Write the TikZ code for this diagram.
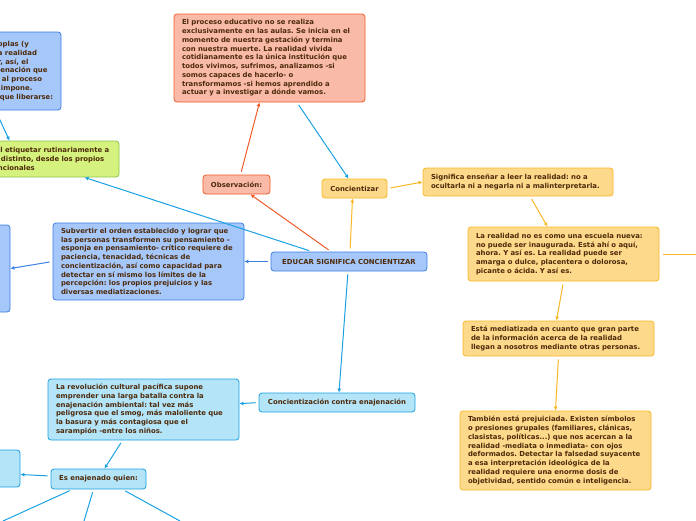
\documentclass[tikz,border=0pt]{standalone}
\usepackage{fontspec}
\usepackage{graphicx}
\setmainfont{DejaVu Sans}
\usetikzlibrary{arrows.meta, positioning}

\definecolor{txtbrown}{HTML}{4D2A0A}
\definecolor{salmonfill}{HTML}{F9BBA7}
\definecolor{salmonline}{HTML}{F15A29}
\definecolor{bluefill}{HTML}{A6C7F9}
\definecolor{blueline}{HTML}{3D7FE3}
\definecolor{greenfill}{HTML}{D5F27E}
\definecolor{greenline}{HTML}{8BC34A}
\definecolor{yellowfill}{HTML}{FDD98B}
\definecolor{yellowline}{HTML}{F9B723}
\definecolor{cyanfill}{HTML}{B3E4F8}
\definecolor{cyanline}{HTML}{1BA1E2}

% squeeze a line that is wider than the box
\newsavebox{\fitbox}
\newcommand{\fl}[1]{\sbox{\fitbox}{#1}%
  \ifdim\wd\fitbox>\linewidth\resizebox{\linewidth}{\height}{#1}\else\usebox{\fitbox}\fi}

\begin{document}
\frenchspacing
\begin{tikzpicture}[
    x=1pt, y=-1pt,
    box/.style={
        draw,
        rounded corners=3pt,
        line width=0.8pt,
        align=left,
        text=txtbrown,
        font=\fontsize{6.9}{8.75}\selectfont\bfseries,
        inner xsep=8pt,
        inner ysep=3pt
    },
    salmonbox/.style={box, fill=salmonfill, draw=salmonline},
    bluebox/.style={box, fill=bluefill, draw=blueline},
    greenbox/.style={box, fill=greenfill, draw=greenline},
    yellowbox/.style={box, fill=yellowfill, draw=yellowline},
    cyanbox/.style={box, fill=cyanfill, draw=cyanline},
    arrow/.style={
        -{Latex[length=4pt,width=4pt]},
        line width=1pt,
        shorten <=3pt
    }
]
\useasboundingbox (0,0) rectangle (696,520);
\clip (0,0) rectangle (696,520);

% centre
\node[bluebox, align=center, minimum width=156pt, minimum height=19pt] (educar) at (349,261.5)
{EDUCAR SIGNIFICA CONCIENTIZAR};

% upper branch
\node[salmonbox, minimum width=67pt, minimum height=19pt, align=center] (obs) at (236.5,184.5)
{Observación:};

\node[salmonbox, text width=175pt, minimum height=88pt] (proceso) at (269.5,58)
{\fl{El proceso educativo no se realiza}\\
\fl{exclusivamente en las aulas. Se inicia en el}\\
\fl{momento de nuestra gestación y termina}\\
\fl{con nuestra muerte. La realidad vivida}\\
\fl{cotidianamente es la única institución que}\\
\fl{todos vivimos, sufrimos, analizamos -si}\\
\fl{somos capaces de hacerlo- o}\\
\fl{transformamos -si hemos aprendido a}\\
\fl{actuar y a investigar a dónde vamos.}};

\node[yellowbox, minimum width=65pt, minimum height=19pt, align=center] (conc) at (354.5,188.5)
{Concientizar};

\node[yellowbox, text width=174pt, minimum height=28pt] (signif) at (518,182)
{\fl{Significa enseñar a leer la realidad: no a}\\
\fl{ocultarla ni a negarla ni a malinterpretarla.}};

\node[yellowbox, text width=175pt, minimum height=54pt] (realidad) at (563.5,254)
{\fl{La realidad no es como una escuela nueva:}\\
\fl{no puede ser inaugurada. Está ahí o aquí,}\\
\fl{ahora. Y así es. La realidad puede ser}\\
\fl{amarga o dulce, placentera o dolorosa,}\\
\fl{picante o ácida. Y así es.}};

\node[yellowbox, text width=175pt, minimum height=35pt] (mediat) at (558.5,338.5)
{\fl{Está mediatizada en cuanto que gran parte}\\
\fl{de la información acerca de la realidad}\\
\fl{llegan a nosotros mediante otras personas.}};

\node[yellowbox, text width=175pt, minimum height=79pt] (prejuic) at (555.5,450.5)
{\fl{También está prejuiciada. Existen símbolos}\\
\fl{o presiones grupales (familiares, clánicas,}\\
\fl{clasistas, políticas...) que nos acercan a la}\\
\fl{realidad -mediata o inmediata- con ojos}\\
\fl{deformados. Detectar la falsedad suyacente}\\
\fl{a esa interpretación ideológica de la}\\
\fl{realidad requiere una enorme dosis de}\\
\fl{objetividad, sentido común e inteligencia.}};

% left branch
\node[bluebox, text width=175pt, minimum height=77pt] (subvertir) at (148.5,261.5)
{\fl{Subvertir el orden establecido y lograr que}\\
\fl{las personas transformen su pensamiento -}\\
\fl{esponja en pensamiento- crítico requiere de}\\
\fl{paciencia, tenacidad, técnicas de}\\
\fl{concientización, así como capacidad para}\\
\fl{detectar en sí mismo los límites de la}\\
\fl{percepción: los propios prejuicios y las}\\
\fl{diversas mediatizaciones.}};

\node[bluebox, minimum width=20pt, minimum height=87pt] (leftmid) at (0,268.5) {};

\node[greenbox, text width=113pt, minimum height=36pt] (etiquetar) at (54.5,159)
{\fl{ll etiquetar rutinariamente a}\\
\fl{\hspace{3pt}distinto, desde los propios}\\
\fl{ncionales}};

\node[bluebox, text width=55pt, minimum height=78pt] (oplas) at (25.5,71)
{\fl{oplas (y}\\
\fl{a realidad}\\
\fl{r, así, el}\\
\fl{jenación que}\\
\fl{\hspace{4pt}al proceso}\\
\fl{\hspace{3pt}impone.}\\
\fl{\hspace{2pt}que liberarse:}};

% lower branch
\node[cyanbox, minimum width=156pt, minimum height=19pt, align=center] (contra) at (337,402.5)
{Concientización contra enajenación};

\node[cyanbox, text width=175pt, minimum height=61pt] (revolucion) at (143.5,409.5)
{\fl{La revolución cultural pacífica supone}\\
\fl{emprender una larga batalla contra la}\\
\fl{enajenación ambiental: tal vez más}\\
\fl{peligrosa que el smog, más maloliente que}\\
\fl{la basura y más contagiosa que el}\\
\fl{sarampión -entre los niños.}};

\node[cyanbox, minimum width=95pt, minimum height=20pt, align=center] (enajenado) at (98.5,479)
{Es enajenado quien:};

\node[cyanbox, minimum width=30pt, minimum height=37pt] (leftlow) at (5,468.5) {};

% free ends
\coordinate (offright) at (700,254);
\coordinate (offa) at (3,521);
\coordinate (offb) at (84,521);
\coordinate (offc) at (180,521);

% connectors
\draw[arrow, salmonline] ([xshift=-18pt]educar.north) -- (obs);
\draw[arrow, salmonline] ([xshift=4pt]obs.north) -- ([xshift=-10pt]proceso.south);
\draw[arrow, cyanline] ([xshift=27.5pt]proceso.south) -- ([xshift=-6pt]conc.north);
\draw[arrow, yellowline] ([xshift=1pt]educar.north) -- ([xshift=-2pt]conc.south);
\draw[arrow, yellowline] (conc.east) -- (signif.west);
\draw[arrow, yellowline] ([xshift=12pt]signif.south) -- ([xshift=-16pt]realidad.north);
\draw[arrow, yellowline] (realidad.south) -- ([xshift=-2pt]mediat.north);
\draw[arrow, yellowline] (mediat.south) -- (prejuic.north);
\draw[line width=1pt, yellowline, shorten <=4pt] (realidad.east) -- (offright);

\draw[arrow, cyanline] ([xshift=-37pt]educar.north) -- ([xshift=30pt]etiquetar.south);
\draw[arrow, cyanline, shorten <=0pt] ([xshift=-30pt]oplas.south) -- ([xshift=-45pt]etiquetar.north);
\draw[arrow, blueline] (educar.west) -- (subvertir.east);
\draw[arrow, blueline] (subvertir.west) -- (leftmid.east);

\draw[arrow, cyanline] ([xshift=-1pt]educar.south) -- ([xshift=2pt]contra.north);
\draw[arrow, cyanline] (contra.west) -- (revolucion);
\draw[arrow, cyanline] ([xshift=-21pt]revolucion.south) -- ([xshift=6pt]enajenado.north);
\draw[arrow, cyanline] ([yshift=3pt]enajenado.west) -- ([yshift=-6pt]leftlow.east);
\draw[line width=1pt, cyanline, shorten <=3pt] ([xshift=-26pt]enajenado.south) -- (offa);
\draw[line width=1pt, cyanline, shorten <=3pt] ([xshift=-5pt]enajenado.south) -- (offb);
\draw[line width=1pt, cyanline, shorten <=3pt] ([xshift=24pt]enajenado.south) -- (offc);

\end{tikzpicture}
\end{document}
